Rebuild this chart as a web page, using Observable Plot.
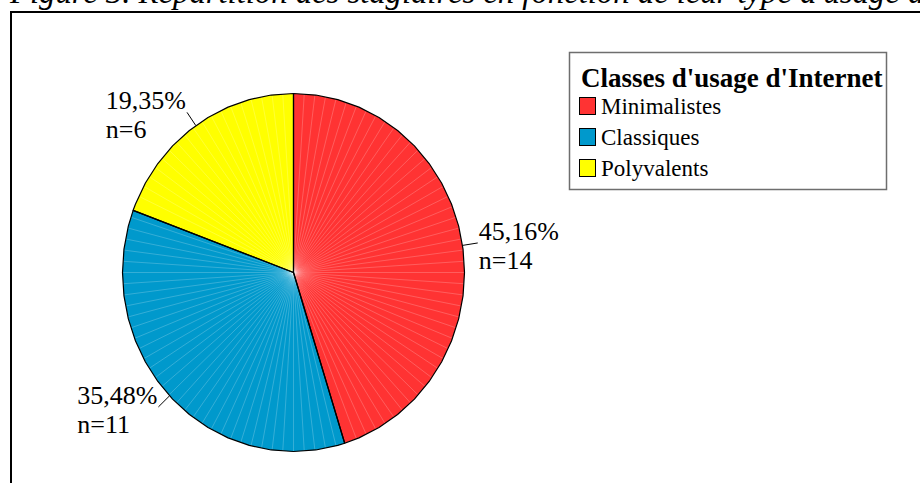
<!DOCTYPE html>
<html><head><meta charset="utf-8">
<script src="https://cdn.jsdelivr.net/npm/d3@7"></script>
<script src="https://cdn.jsdelivr.net/npm/@observablehq/plot@0.6"></script>
<style>
html,body{margin:0;padding:0;background:#fff;overflow:hidden}
#wrap{position:relative;width:920px;height:483px;overflow:hidden;font-family:"Liberation Serif","Times New Roman",serif;background:#fff}
#chart{position:absolute;left:0;top:0}
#frame{position:absolute;left:10px;top:11px;width:940px;height:520px;border-top:2px solid #000;border-left:2px solid #000}
#title{position:absolute;left:10px;top:-24px;font-size:32.7px;line-height:32px;font-style:italic;white-space:nowrap;color:#000}
#legend{position:absolute;left:0;top:0}
</style></head><body>
<div id="wrap"><div id="chart"></div><div id="frame"></div><div id="title">Figure 3. Répartition des stagiaires en fonction de leur type d'usage d'Internet</div></div>
<script>
// ---- data ----
const categories = ["Minimalistes", "Classiques", "Polyvalents"];
const counts = [14, 11, 6];
const colors = ["#ff3333", "#0099cc", "#ffff00"];
const legendTitle = "Classes d'usage d'Internet";

// ---- build ----
const data = categories.map((c, i) => ({cat: c, n: counts[i]}));
const total = d3.sum(counts);
const slices = d3.pie().value(d => d.n).sort(null)(data);
const fmt = v => d3.format(".2f")(v).replace(".", ",") + "%";

const vertexStep = Math.PI * 2 / 48;
const shadeStep = Math.PI * 2 / 100;
const polys = [];
const shades = [];
slices.forEach(s => {
  const cat = s.data.cat;
  polys.push({cat, x: 0, y: 0});
  const angs = [s.startAngle];
  for (let a = Math.ceil(s.startAngle / vertexStep) * vertexStep; a < s.endAngle; a += vertexStep) if (a > s.startAngle + 1e-6) angs.push(a);
  angs.push(s.endAngle);
  angs.forEach(a => polys.push({cat, x: Math.sin(a), y: Math.cos(a)}));
  polys.push({cat, x: 0, y: 0});
  for (let a = Math.ceil(s.startAngle / shadeStep) * shadeStep; a < s.endAngle - shadeStep * 0.4; a += shadeStep) {
    if (a - s.startAngle < shadeStep * 0.4) continue;
    shades.push({x: Math.sin(a), y: Math.cos(a)});
  }
});

const labelFont = 26;
const ctx = document.createElement("canvas").getContext("2d");
ctx.font = `${labelFont}px 'Liberation Serif'`;

const labels = slices.map(s => {
  const m = (s.startAngle + s.endAngle) / 2;
  const pct = fmt(s.data.n / total * 100);
  return {
    cat: s.data.cat,
    text: pct + "\nn=" + s.data.n,
    width: ctx.measureText(pct).width,
    x1: Math.sin(m), y1: Math.cos(m),
    x2: 1.09 * Math.sin(m), y2: 1.09 * Math.cos(m)
  };
});

const textMarks = labels.map(l => Plot.text([l], {
  x: "x2", y: "y2", text: "text", fontSize: labelFont, lineAnchor: "bottom", lineHeight: 1.115,
  dy: 26, textAnchor: "start", dx: l.x2 >= 0 ? 1 : -1 - l.width, fill: "#000"
}));

const chart = Plot.plot({
  width: 920, height: 483,
  margin: 0,
  style: {background: "transparent", fontFamily: "'Liberation Serif', 'Times New Roman', serif"},
  x: {domain: [-1, 1], range: [122, 464], axis: null},
  y: {domain: [-1, 1], range: [451, 93], axis: null},
  color: {domain: categories, range: colors},
  marks: [
    Plot.line(polys, {x: "x", y: "y", z: "cat", fill: "cat", stroke: "none", curve: "linear"}),
    Plot.link(shades, {x1: () => 0, y1: () => 0, x2: "x", y2: "y", stroke: "#fff", strokeOpacity: 0.3, strokeWidth: 0.7}),
    Plot.line(polys, {x: "x", y: "y", z: "cat", stroke: "#000", strokeWidth: 1.2, curve: "linear"}),
    Plot.link(labels, {x1: "x1", y1: "y1", x2: "x2", y2: "y2", stroke: "#000", strokeWidth: 1}),
    ...textMarks
  ]
});
document.getElementById("chart").appendChild(chart);

// ---- legend ----
const lg = d3.select("#wrap").append("svg").attr("id", "legend").attr("width", 920).attr("height", 483)
  .style("font-family", "'Liberation Serif', 'Times New Roman', serif");
lg.append("rect").attr("x", 569.5).attr("y", 52.5).attr("width", 317).attr("height", 137)
  .attr("fill", "#fff").attr("stroke", "#6e6e6e").attr("stroke-width", 1.5);
lg.append("text").attr("x", 581).attr("y", 87).attr("font-size", 27).attr("font-weight", "bold").text(legendTitle);
categories.forEach((c, i) => {
  lg.append("rect").attr("x", 579.5).attr("y", 97.5 + 31 * i).attr("width", 16).attr("height", 17)
    .attr("fill", colors[i]).attr("stroke", "#000").attr("stroke-width", 1);
  lg.append("text").attr("x", 601).attr("y", 114 + 31 * i).attr("font-size", 23).text(c);
});
</script>
</body></html>
